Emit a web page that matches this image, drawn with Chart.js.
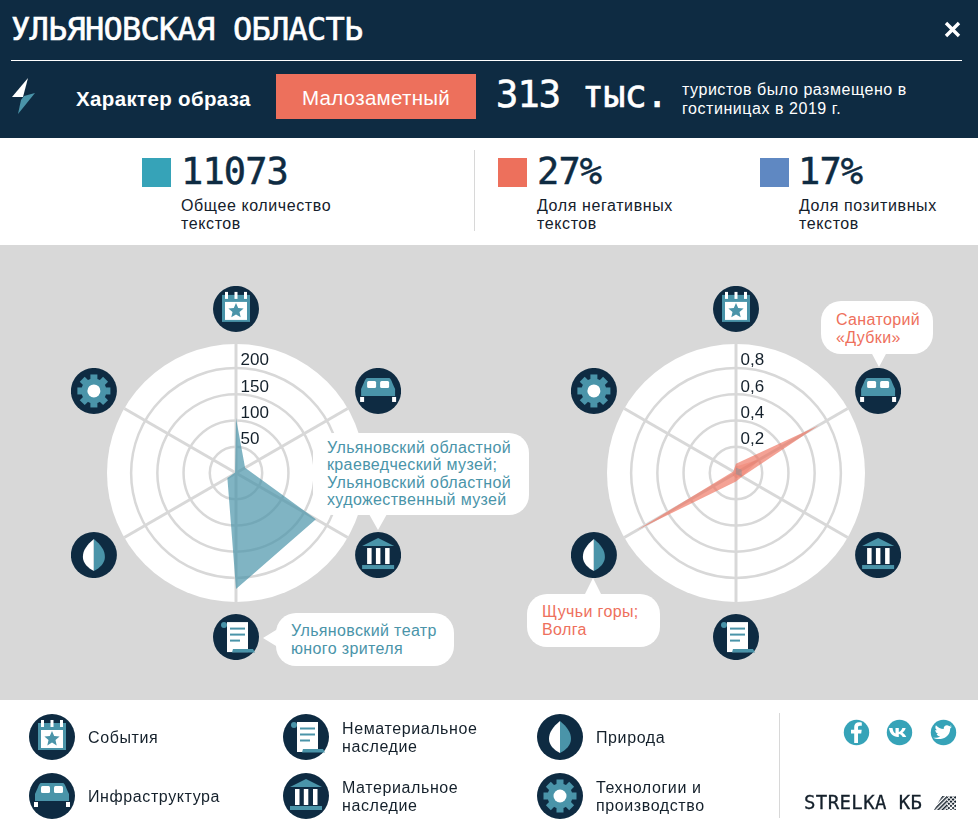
<!doctype html>
<html><head><meta charset="utf-8">
<script src="https://cdn.jsdelivr.net/npm/chart.js@4"></script>
<style>
*{box-sizing:border-box}
html,body{margin:0;padding:0;width:978px;height:828px;overflow:hidden;background:#fff;font-family:"Liberation Sans",Arial,sans-serif;position:relative}
.abs{position:absolute}
.mono{font-family:"DejaVu Sans Mono",monospace}
#top{left:0;top:0;width:978px;height:138px;background:#0e2b42}
#mid{left:0;top:245px;width:978px;height:455px;background:#d8d8d8}
canvas{position:absolute}
.t{position:absolute;white-space:pre;line-height:18px;font-size:16px;color:#14202b;letter-spacing:.6px}
.bubble{position:absolute;background:#fff;border-radius:20px;font-size:16px;line-height:17.5px;white-space:pre;letter-spacing:.36px}
.sq{position:absolute;width:29px;height:29px}
.num{position:absolute;font-family:"DejaVu Sans Mono",monospace;font-size:37px;line-height:36px;color:#0e2b42;letter-spacing:-.9px;-webkit-text-stroke:.5px #0e2b42}
</style></head><body>
<div class="abs" id="top"></div>
<div class="abs" id="mid"></div>
<div class="abs" style="left:11px;top:11px;color:#fff;font-family:'DejaVu Sans Mono',monospace;font-size:32px;line-height:36px;letter-spacing:-.77px;white-space:pre;-webkit-text-stroke:.6px #fff">УЛЬЯНОВСКАЯ ОБЛАСТЬ</div>
<svg class="abs" style="left:944px;top:21px" width="17" height="17"><path d="M2 2L15 15M15 2L2 15" stroke="#fff" stroke-width="3.4"/></svg>
<div class="abs" style="left:11px;top:60px;width:951px;height:1px;background:#fff"></div>
<svg class="abs" style="left:11px;top:78px" width="26" height="38"><path d="M17 0L1 19L12 19Z" fill="#fff"/><path d="M24 15L7 36L10 22L13 18Z" fill="#4a94a9"/></svg>
<div class="abs" style="left:76px;top:87px;color:#fff;font-weight:700;font-size:20.5px;line-height:24px;letter-spacing:.35px;white-space:pre">Характер образа</div>
<div class="abs" style="left:276px;top:74px;width:200px;height:45px;background:#ed705c;color:#fff;font-size:20.5px;line-height:47px;text-align:center;letter-spacing:.3px">Малозаметный</div>
<div class="abs mono" style="left:496px;top:73px;color:#fff;font-size:37px;line-height:44px;letter-spacing:-.85px;white-space:pre;-webkit-text-stroke:.6px #fff">313 тыс.</div>
<div class="abs" style="left:682px;top:80px;color:#fff;font-size:16px;line-height:19px;white-space:pre;letter-spacing:.55px">туристов было размещено в
гостиницах в 2019 г.</div>

<div class="sq" style="left:142px;top:158px;background:#36a3b8"></div>
<div class="num" style="left:181px;top:154px">11073</div>
<div class="t" style="left:181px;top:197px">Общее количество
текстов</div>
<div class="abs" style="left:474px;top:150px;width:1px;height:81px;background:#d8d8d8"></div>
<div class="sq" style="left:498px;top:158px;background:#ed705c"></div>
<div class="num" style="left:537px;top:154px">27%</div>
<div class="t" style="left:537px;top:197px">Доля негативных
текстов</div>
<div class="sq" style="left:760px;top:158px;background:#5f88c2"></div>
<div class="num" style="left:798px;top:154px">17%</div>
<div class="t" style="left:799px;top:197px">Доля позитивных
текстов</div>

<canvas id="left" width="400" height="400" style="left:36px;top:272.5px;width:400px;height:400px"></canvas>
<canvas id="right" width="400" height="400" style="left:536.3px;top:272.5px;width:400px;height:400px"></canvas>

<svg class="abs" style="left:0;top:245px;overflow:visible" width="978" height="455">
<path d="M369 269L387 269L378 285Z" fill="#fff"/>
<path d="M263 393L281 382L281 404Z" fill="#fff"/>
<path d="M871 107L887 107L879 122Z" fill="#fff"/>
<path d="M584 351L602 351L593 333Z" fill="#fff"/>
</svg>
<div class="bubble" style="left:313px;top:432.500px;width:216px;height:82px;padding:6px 14px;color:#4a94a9">Ульяновский областной
краеведческий музей;
Ульяновский областной
художественный музей</div>
<div class="bubble" style="left:276px;top:613px;width:178px;height:53px;padding:9px 15px;color:#4a94a9">Ульяновский театр
юного зрителя</div>
<div class="bubble" style="left:821px;top:301px;width:112px;height:53px;padding:10px 15px;color:#ee705c">Санаторий
«Дубки»</div>
<div class="bubble" style="left:527px;top:594px;width:133px;height:53px;padding:9px 15px;color:#ee705c">Щучьи горы;
Волга</div>

<svg class="abs" style="left:0;top:0" width="978" height="828" id="legendIcons"></svg>
<div class="t" style="left:88px;top:729px">События</div>
<div class="t" style="left:88px;top:788px">Инфраструктура</div>
<div class="t" style="left:342px;top:720px">Нематериальное
наследие</div>
<div class="t" style="left:342px;top:779px">Материальное
наследие</div>
<div class="t" style="left:596px;top:729px">Природа</div>
<div class="t" style="left:596px;top:779px">Технологии и
производство</div>
<div class="abs" style="left:779px;top:713px;width:1px;height:105px;background:#d8d8d8"></div>
<svg class="abs" style="left:843px;top:719px" width="115" height="27">
<circle cx="13.5" cy="13.5" r="12.700" fill="#36a3b8"/><path d="M15 24V14.500H18.200L18.700 10.800H15V8.500C15 7.400 15.300 6.700 16.900 6.700H18.800V3.400C18.400 3.300 17.300 3.200 16 3.200C13.200 3.200 11.200 4.900 11.200 8.100V10.800H8V14.500H11.200V24Z" fill="#fff"/>
<circle cx="56.500" cy="13.500" r="12.700" fill="#36a3b8"/><path d="M46 9H49.500C49.900 11.500 50.800 13.800 52.500 14.500V9H55.800V13C57.600 12.700 58.800 10.800 59.400 9H62.700C62.200 11 60.800 12.600 59.500 13.700C61 14.500 62.500 16 63.300 18H59.700C59.100 16.500 57.600 15.200 55.800 15V18H55C50 18 46.700 14.500 46 9Z" fill="#fff"/>
<circle cx="100.500" cy="13.500" r="12.700" fill="#36a3b8"/><path d="M90 18.700C96 22 107.200 19.500 107.200 9.400L109 7.600L106.800 8.200L108.500 6.300L106.300 7.200C104 5 100.300 6.600 100.700 10C97.500 9.900 95 8.500 92.900 6.200C91.800 8.200 92.500 10.200 94 11.300L92.300 10.900C92.300 12.900 93.500 14.200 95.300 14.800L93.600 14.900C94.200 16.400 95.500 17.200 97.200 17.400C95.500 18.600 93 19.100 90 18.700Z" fill="#fff"/>
</svg>
<div class="abs mono" style="left:804px;top:791px;font-size:19px;line-height:22px;color:#14202b;letter-spacing:.4px;white-space:pre;-webkit-text-stroke:.3px #14202b">STRELKA КБ</div>
<svg class="abs" style="left:934px;top:796px" width="23" height="14"><defs><pattern id="hatch" width="3" height="3" patternUnits="userSpaceOnUse" patternTransform="rotate(45)"><rect width="1.500" height="3" fill="#14202b"/></pattern><pattern id="dots" width="3" height="3" patternUnits="userSpaceOnUse" patternTransform="rotate(45)"><rect width="2" height="2" fill="#14202b"/></pattern></defs><path d="M0 14L8 0H13V14Z" fill="url(#hatch)"/><path d="M13 0H22V14H13Z" fill="url(#dots)"/></svg>

<script>
const categories = ["События","Инфраструктура","Материальное наследие","Нематериальное наследие","Природа","Технологии и производство"];
const leftValues = [105, 20, 176, 221, 19, 2];
const leftTicks = [50,100,150,200];
const leftMax = 246;
const rightNegativeA = [0.07, 0.73, 0.055, 0.065, 0.875, 0.024];
const rightNegativeB = [0.05, 0.21, 0.055, 0.04, 0.03, 0.01];
const rightPositive = [0.04, 0.05, 0.05, 0.01, 0.005, 0.0];
const rightTicks = [0.2,0.4,0.6,0.8];
const rightMax = 0.984;
const navy="#0e2b42", teal="#4a94a9";

const icons = {
 event:()=>`<rect x="-14" y="-14" width="28" height="27" fill="${teal}"/><rect x="-11" y="-7" width="22" height="18" fill="#fff"/><rect x="-11" y="-17" width="3" height="7" fill="#fff"/><rect x="-1.500" y="-17" width="3" height="7" fill="#fff"/><rect x="8" y="-17" width="3" height="7" fill="#fff"/><path d="M0-6L2.200-1 7.600-.5 3.500 3.100 4.700 8.400 0 5.600-4.700 8.400-3.500 3.100-7.600-.5-2.200-1Z" fill="${teal}"/>`,
 bed:()=>`<path d="M-11-13H11C13-13 14-8 17-2V5H-17V-2C-14-8-13-13-11-13Z" fill="${teal}"/><rect x="-11" y="-10" width="9" height="7" rx="1.500" fill="#fff"/><rect x="2" y="-10" width="9" height="7" rx="1.500" fill="#fff"/><rect x="-18" y="6" width="4" height="5" fill="#fff"/><rect x="14" y="6" width="4" height="5" fill="#fff"/>`,
 museum:()=>`<path d="M0-17L16-9H-16Z" fill="${teal}"/><rect x="-11" y="-7" width="4.500" height="16" fill="#fff"/><rect x="-2.200" y="-7" width="4.500" height="16" fill="#fff"/><rect x="7" y="-7" width="4.500" height="16" fill="#fff"/><rect x="-16" y="10" width="32" height="4" fill="${teal}"/>`,
 scroll:()=>`<path d="M-9-15H12V15H-9Z" fill="#fff"/><circle cx="-12" cy="-12" r="3" fill="${teal}"/><rect x="-6" y="-9.500" width="15" height="2" fill="${teal}"/><rect x="-6" y="-3.500" width="15" height="2" fill="${teal}"/><rect x="-6" y="2.500" width="10" height="2" fill="${teal}"/><path d="M-3 12H17L19 15.500H-4Z" fill="${teal}"/>`,
 leaf:()=>`<path d="M0-16C-7-10-11-5-11 2C-11 8-6 13 0 16Z" fill="#fff"/><path d="M0-16C7-10 11-5 11 2C11 8 6 13 0 16Z" fill="${teal}"/>`,
 gear:()=>{let t='';for(let i=0;i<8;i++){t+=`<rect x="-3.500" y="-16.500" width="7" height="7" fill="${teal}" transform="rotate(${i*45})"/>`}return t+`<circle r="12.500" fill="${teal}"/><circle r="6.500" fill="#fff"/>`}
};
const iconKeys=["event","bed","museum","scroll","leaf","gear"];
function iconSVG(key,x,y,r){return `<g transform="translate(${x},${y}) scale(${r/23})"><circle r="23" fill="${navy}"/>${icons[key]()}</g>`}
const legendPos=[["event",52,737],["bed",52,796],["scroll",306,737],["museum",306,796],["leaf",560,737],["gear",560,796]];
document.getElementById('legendIcons').innerHTML=legendPos.map(p=>iconSVG(p[0],p[1],p[2],23)).join('');

const iconImages={};
const ready=Promise.all(iconKeys.map(k=>new Promise(res=>{
  const img=new Image();
  img.onload=()=>{iconImages[k]=img;res()};
  img.src='data:image/svg+xml;charset=utf-8,'+encodeURIComponent(`<svg xmlns="http://www.w3.org/2000/svg" width="46" height="46" viewBox="-23 -23 46 46"><circle r="23" fill="${navy}"/>${icons[k]()}</svg>`);
})));
const iconPlugin={id:'iconPlugin',afterDraw(chart){
  const s=chart.scales.r,ctx=chart.ctx;
  iconKeys.forEach((k,i)=>{
    const p=s.getPointPosition(i,s.drawingArea*1.272);
    ctx.drawImage(iconImages[k],p.x-23,p.y-23,46,46);
  });
}};
function build(id,datasets,max,ticks,fmt){
  const tickLabelPlugin={id:'ticksText',afterDraw(chart){
    const s=chart.scales.r,c=chart.ctx;
    c.save();c.font='17px "Liberation Sans"';c.fillStyle='#14202b';c.textAlign='left';c.textBaseline='middle';
    ticks.forEach(v=>{const p=s.getPointPositionForValue(0,v);c.fillText(fmt(v),p.x+4.5,p.y-7.5)});
    c.restore();
  }};
  return new Chart(document.getElementById(id),{
    type:'radar',
    data:{labels:categories,datasets},
    options:{
      responsive:false,animation:false,
      layout:{padding:70.5},
      plugins:{legend:{display:false},tooltip:{enabled:false}},
      scales:{r:{min:0,max:max,backgroundColor:'#fff',beginAtZero:true,
        angleLines:{color:'#d8d8d8',lineWidth:3},
        grid:{circular:true,color:'#d8d8d8',lineWidth:2.500},
        pointLabels:{display:false},
        ticks:{display:false,stepSize:ticks[0],includeBounds:false}
      }},
      elements:{point:{radius:0},line:{borderWidth:0,tension:0}}
    },
    plugins:[iconPlugin,tickLabelPlugin]
  });
}
ready.then(()=>{
  build('left',[{data:leftValues,backgroundColor:'rgba(74,148,169,.7)',fill:true,borderWidth:0}],leftMax,leftTicks,v=>String(v));
  build('right',[
    {data:rightPositive,backgroundColor:'rgba(74,148,169,.3)',fill:true,borderWidth:0},
    {data:rightNegativeB,backgroundColor:'rgba(238,112,92,.3)',fill:true,borderWidth:0},
    {data:rightNegativeA,backgroundColor:'rgba(238,112,92,.65)',fill:true,borderWidth:0}
  ],rightMax,rightTicks,v=>v.toFixed(1).replace('.',','));
});
</script>
</body></html>
